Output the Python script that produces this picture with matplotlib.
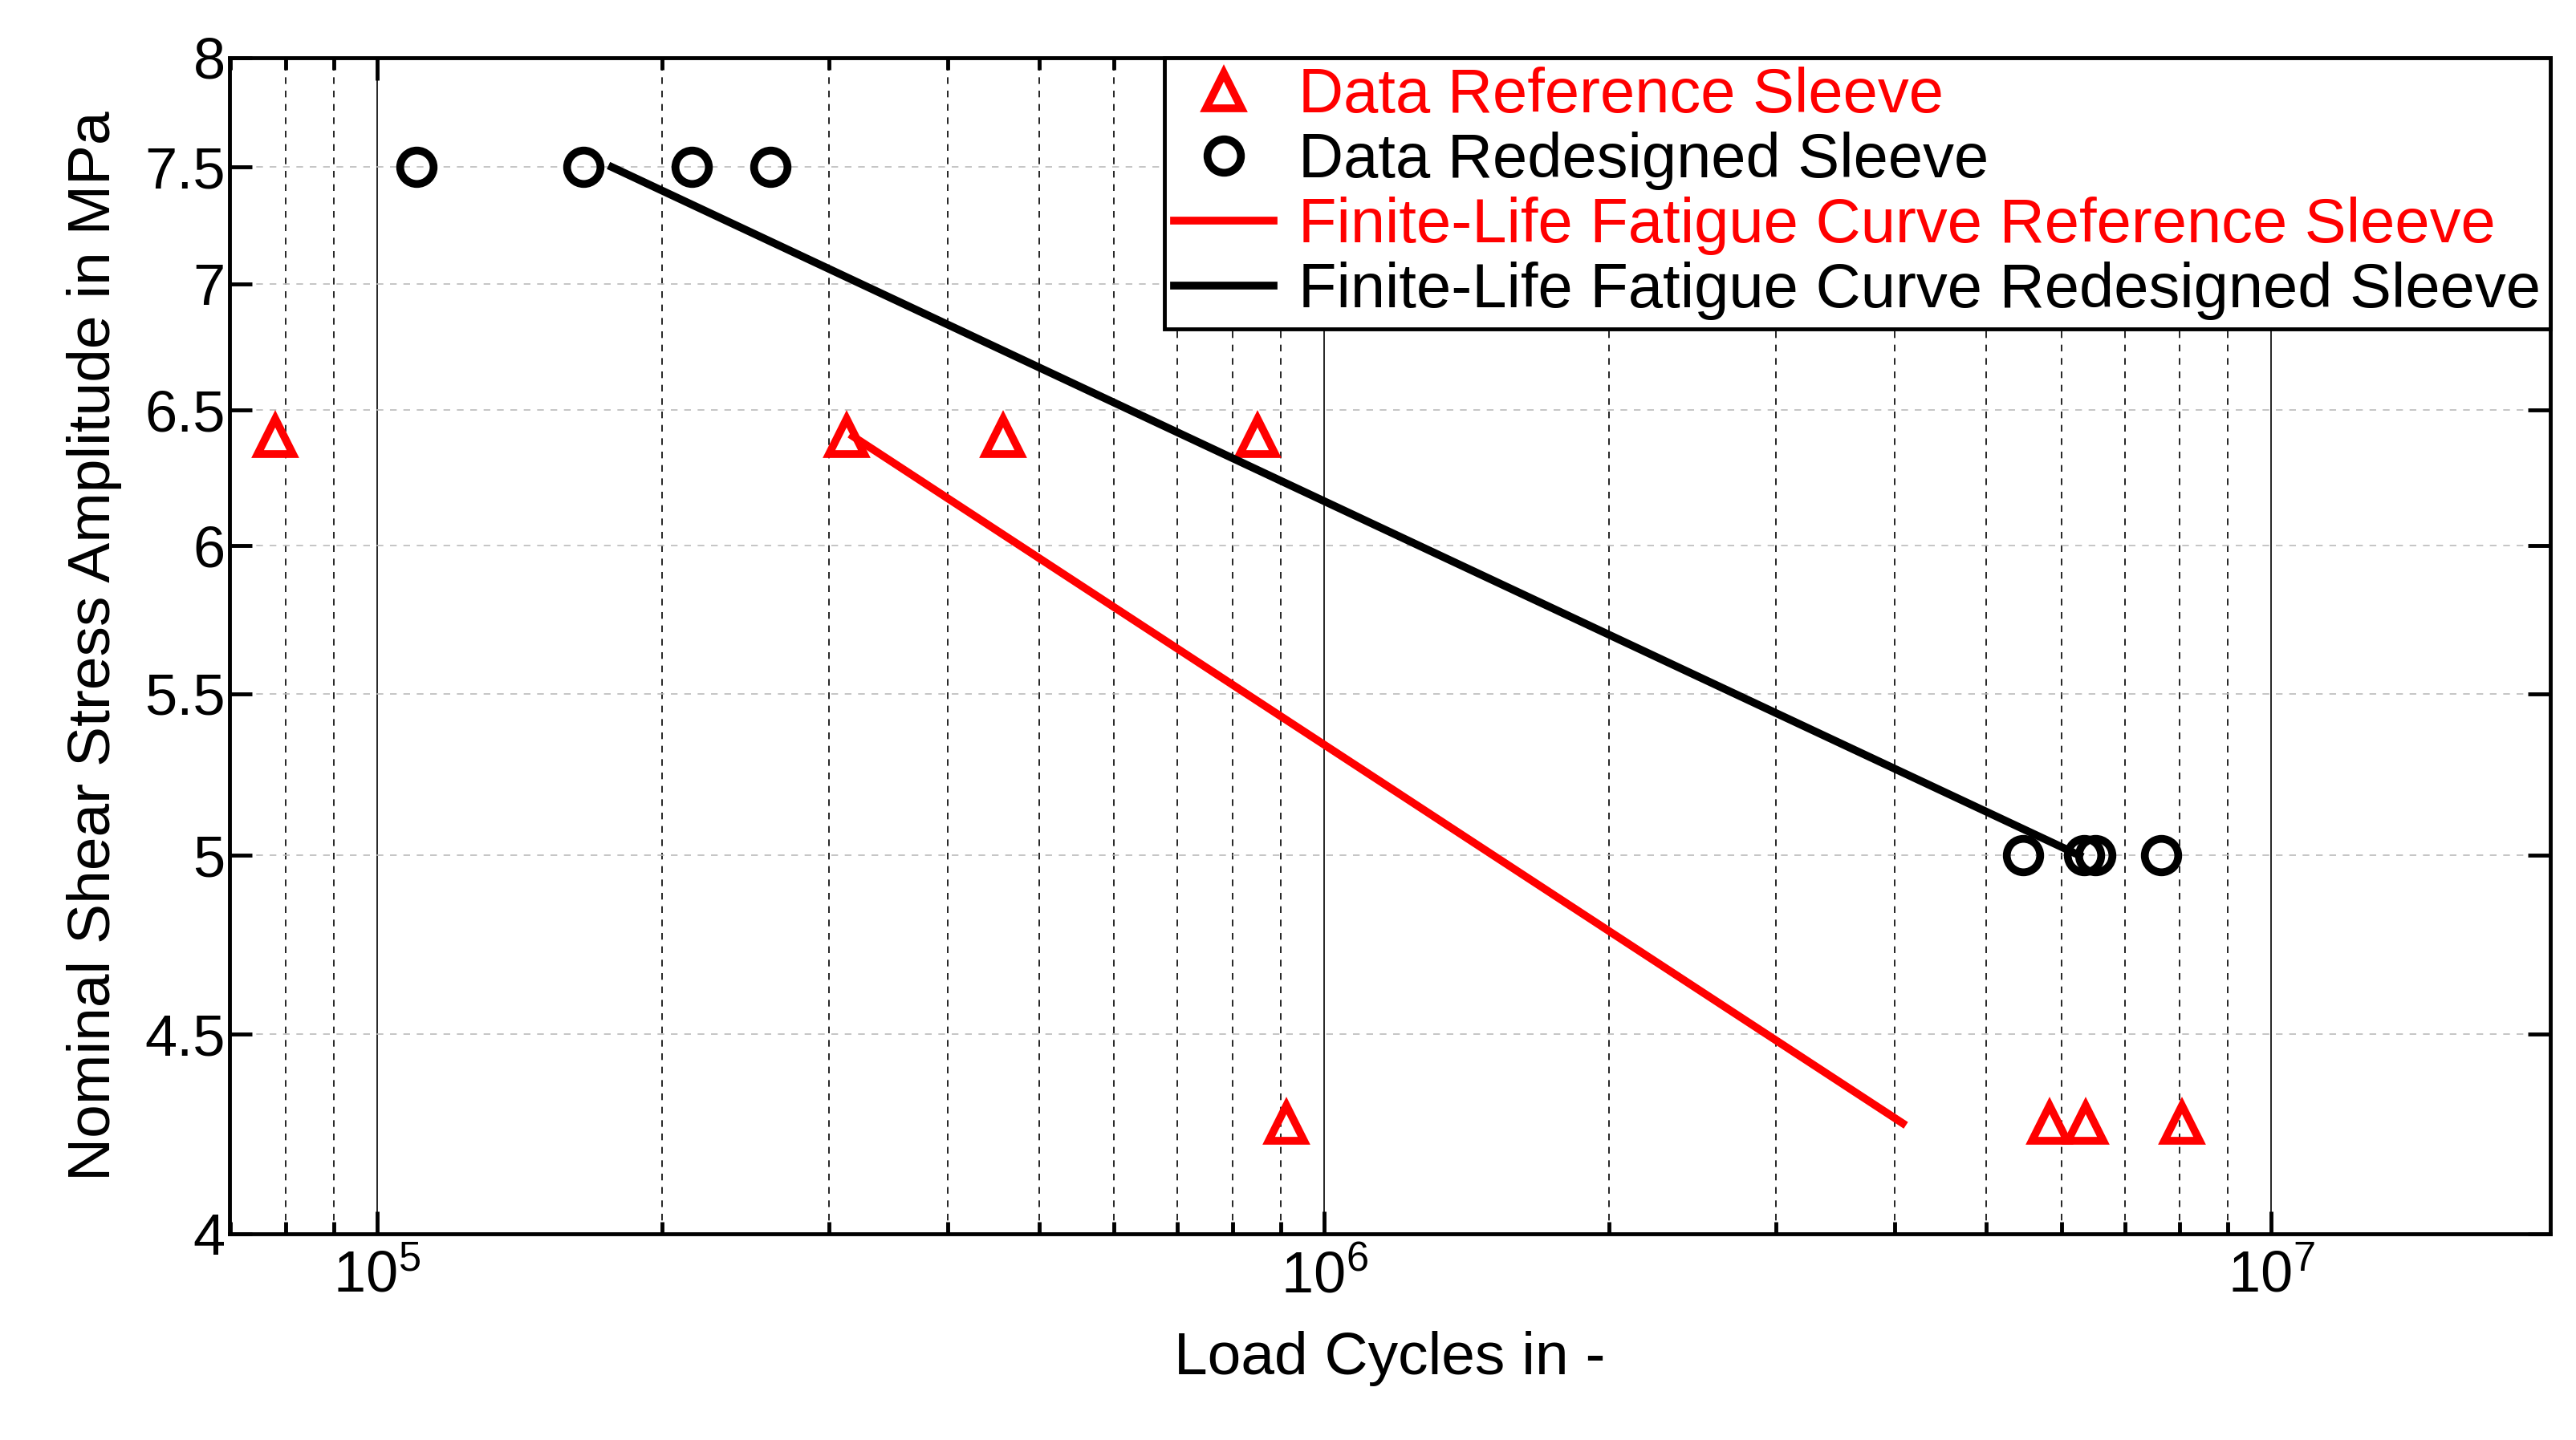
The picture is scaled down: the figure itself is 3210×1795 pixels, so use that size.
import matplotlib
matplotlib.use("Agg")
import matplotlib.pyplot as plt
from matplotlib.ticker import FixedLocator, NullFormatter, LogLocator
plt.rcParams['font.family'] = 'Liberation Sans'

ref_x = [7.8e4, 3.13e5, 4.58e5, 8.5e5, 9.12e5, 5.83e6, 6.37e6, 8.05e6]
ref_y = [6.4, 6.4, 6.4, 6.4, 4.27, 4.27, 4.27, 4.27]
red_x = [1.1e5, 1.65e5, 2.15e5, 2.6e5, 5.47e6, 6.34e6, 6.52e6, 7.65e6]
red_y = [7.5, 7.5, 7.5, 7.5, 5.0, 5.0, 5.0, 5.0]
fit_ref_x = [3.18e5, 4.08e6]
fit_ref_y = [6.4, 4.27]
fit_red_x = [1.77e5, 6.27e6]
fit_red_y = [7.5, 5.0]
yticks = [4, 4.5, 5, 5.5, 6, 6.5, 7, 7.5, 8]
ylabels = ['4', '4.5', '5', '5.5', '6', '6.5', '7', '7.5', '8']

fig = plt.figure(figsize=(32.1, 17.95), dpi=100)
ax = fig.add_axes([0.089, 0.143, 0.901, 0.817])
ax.set_xscale('log'); ax.set_yscale('log')
ax.set_xlim(6.98e4, 1.97e7); ax.set_ylim(4, 8)

ax.plot(ref_x, ref_y, ls='none', marker='^', ms=32, mfc='none', mec='red', mew=7,
        label='Data Reference Sleeve')
ax.plot(red_x, red_y, ls='none', marker='o', ms=30, mfc='none', mec='black', mew=7,
        label='Data Redesigned Sleeve')
ax.plot(fit_ref_x, fit_ref_y, color='red', lw=7, label='Finite-Life Fatigue Curve Reference Sleeve')
ax.plot(fit_red_x, fit_red_y, color='black', lw=7, label='Finite-Life Fatigue Curve Redesigned Sleeve')

ax.yaxis.set_major_locator(FixedLocator(yticks))
ax.set_yticklabels(ylabels)
ax.yaxis.set_minor_formatter(NullFormatter())
ax.yaxis.set_minor_locator(FixedLocator([]))
ax.xaxis.set_major_locator(LogLocator(base=10))
ax.xaxis.set_minor_locator(LogLocator(base=10, subs=range(2, 10)))
ax.xaxis.set_minor_formatter(NullFormatter())

ax.grid(True, which='major', axis='x', color='black', lw=1.2)
ax.grid(True, which='minor', axis='x', color='black', lw=1.2, ls=(0, (5, 5)))
ax.grid(True, which='major', axis='y', color='#bbbbbb', lw=1.2, ls=(0, (5, 5)))
ax.tick_params(which='both', direction='in', top=True, right=True, labelsize=52, width=3.5)
ax.tick_params(which='major', length=20)
ax.tick_params(which='minor', length=11)
ax.tick_params(axis='x', pad=14)
for s in ax.spines.values():
    s.set_linewidth(3.5)
ax.set_xlabel('Load Cycles in -', fontsize=54, labelpad=24)
ax.set_ylabel('Nominal Shear Stress Amplitude in MPa', fontsize=54, labelpad=20)

leg = ax.legend(loc='upper right', fontsize=56, frameon=True, fancybox=False,
                edgecolor='black', framealpha=1, borderpad=0.15, labelspacing=0.1,
                handlelength=1.6, handletextpad=0.4, borderaxespad=0)
leg.get_frame().set_linewidth(3.5)
for t, c in zip(leg.get_texts(), ['red', 'black', 'red', 'black']):
    t.set_color(c)

fig.savefig('out.png', dpi=100)
